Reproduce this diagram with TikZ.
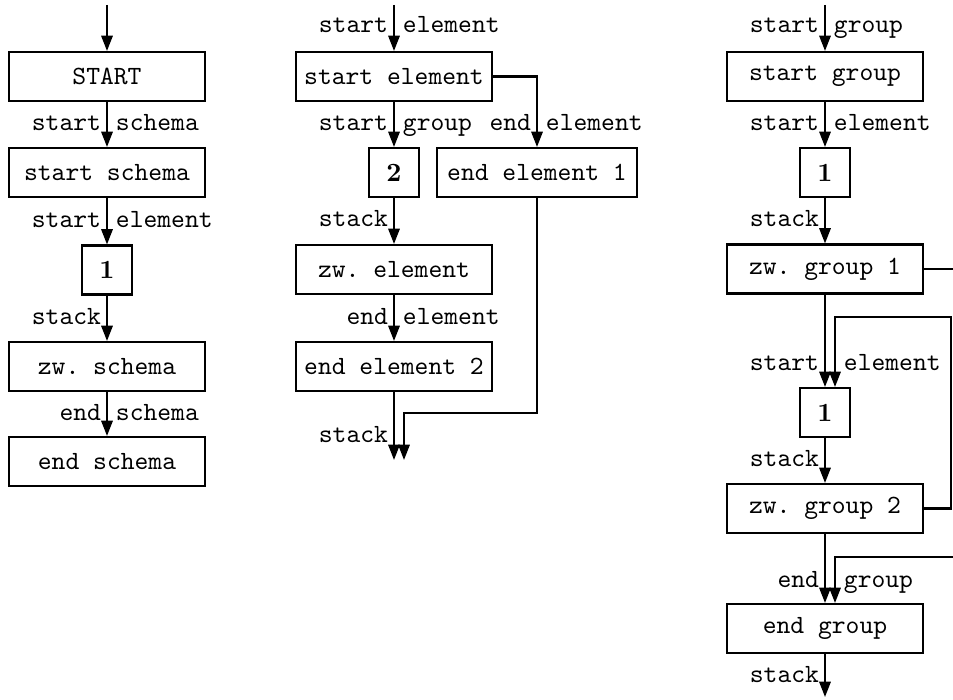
\documentclass[tikz,border=0pt]{standalone}
\usetikzlibrary{arrows.meta}
\begin{document}
\begin{tikzpicture}[x=0.38pt,y=-0.38pt,
  line width=0.8pt,
  box/.style={draw,inner sep=0pt,minimum width=74.3pt,minimum height=18.6pt,font=\ttfamily},
  wide/.style={minimum width=76pt},
  num/.style={draw,inner sep=0pt,minimum width=19pt,minimum height=18.6pt,font=\rmfamily\bfseries},
  arr/.style={-{Triangle[length=5.8pt,width=4.3pt]}},
  lbl/.style={font=\ttfamily,inner sep=0pt},
  ll/.style={lbl,anchor=base east,xshift=-1.9pt},
  rl/.style={lbl,anchor=base west,xshift=3pt}]
\useasboundingbox (0,0) rectangle (953,699);

% ---- schema column ----
\coordinate (a0) at (107,5);
\node[box] (a1) at (107,76.5)  {START};
\node[box] (a2) at (107,172.5) {start schema};
\node[num] (a3) at (107,270)   {1};
\node[box] (a4) at (107,366.5) {zw.\ schema};
\node[box] (a5) at (107,461.5) {end schema};

\draw[arr] (a0) -- (a1);
\draw[arr] (a1) -- (a2);
\draw[arr] (a2) -- (a3);
\draw[arr] (a3) -- (a4);
\draw[arr] (a4) -- (a5);

\node[ll] (a1l) at (107,130) {start};
\node[rl] (a1r) at (107,130) {schema};
\node[ll] (a2l) at (107,227) {start};
\node[rl] (a2r) at (107,227) {element};
\node[ll] (a3l) at (107,324) {stack};
\node[ll] (a4l) at (107,420) {end};
\node[rl] (a4r) at (107,420) {schema};

% ---- element column ----
\coordinate (b0) at (394,5);
\node[box] (b1) at (394,76.5)  {start element};
\node[num] (b2) at (394,172.5) {2};
\node[box,wide] (b3) at (537,172.5) {end element 1};
\node[box] (b4) at (394,269.5) {zw.\ element};
\node[box] (b5) at (394,366.5) {end element 2};
\coordinate (bm) at (404,413);
\coordinate (bt1) at (394,460);
\coordinate (bt2) at (404,460);

\draw[arr] (b0) -- (b1);
\draw[arr] (b1) -- (b2);
\draw[arr] (b1.east) -| (b3);
\draw[arr] (b2) -- (b4);
\draw[arr] (b4) -- (b5);
\draw[arr] (b5) -- (bt1);
\draw[arr] (b3) |- (bm) -- (bt2);

\node[ll] (b0l) at (394,33)  {start};
\node[rl] (b0r) at (394,33)  {element};
\node[ll] (b1l) at (394,130) {start};
\node[rl] (b1r) at (394,130) {group};
\node[ll] (b3l) at (537,130) {end};
\node[rl] (b3r) at (537,130) {element};
\node[ll] (b2l) at (394,226) {stack};
\node[ll] (b4l) at (394,324) {end};
\node[rl] (b4r) at (394,324) {element};
\node[ll] (b5l) at (394,442) {stack};

% ---- group column ----
\coordinate (c0) at (825,5);
\node[box] (c1) at (825,76.5)  {start group};
\node[num] (c2) at (825,172.5) {1};
\node[box] (c3) at (825,269)   {zw.\ group 1};
\node[num] (c4) at (825,412.5) {1};
\node[box] (c5) at (825,508.5) {zw.\ group 2};
\node[box] (c6) at (825,628.5) {end group};
\coordinate (c7) at (825,697);
\coordinate (cx1) at (953,269);
\coordinate (cr) at (951,317);
\coordinate (cq) at (835,317);
\coordinate (cx2) at (953,557);
\coordinate (cp) at (835,557);

\draw[arr] (c0) -- (c1);
\draw[arr] (c1) -- (c2);
\draw[arr] (c2) -- (c3);
\draw (c3.east) -- (cx1);
\draw[arr] (c3) -- (c4);
\draw[arr] (c5.east) -| (cr) -- (cq) -- (cq |- c4.north);
\draw[arr] (c4) -- (c5);
\draw[arr] (c5) -- (c6);
\draw[arr] (cx2) -- (cp) -- (cp |- c6.north);
\draw[arr] (c6) -- (c7);

\node[ll] (c0l) at (825,33)  {start};
\node[rl] (c0r) at (825,33)  {group};
\node[ll] (c1l) at (825,130) {start};
\node[rl] (c1r) at (825,130) {element};
\node[ll] (c2l) at (825,226) {stack};
\node[ll] (c3l) at (825,370) {start};
\node[rl] (c3r) at (835,370) {element};
\node[ll] (c4l) at (825,466) {stack};
\node[ll] (c5l) at (825,587) {end};
\node[rl] (c5r) at (835,587) {group};
\node[ll] (c6l) at (825,682) {stack};
\end{tikzpicture}
\end{document}
